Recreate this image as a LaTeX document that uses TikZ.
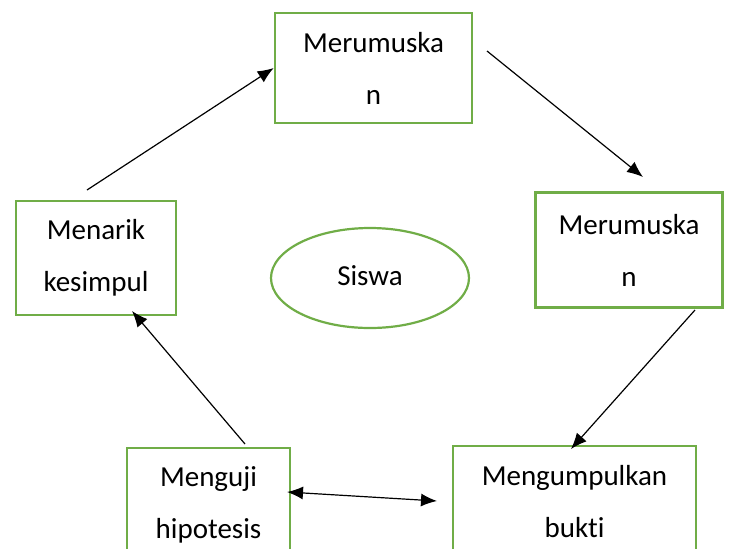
\documentclass[tikz,border=0pt]{standalone}
\usepackage{fontspec}
\setmainfont{Carlito}[Ligatures=NoCommon]
\usepackage{tikz}
\usetikzlibrary{arrows.meta,shapes.geometric}
\definecolor{boxgreen}{HTML}{70AD47}
\tikzstyle{stagebox}=[rectangle, draw=boxgreen, line width=1.3pt, align=center, inner sep=0pt,
    font=\fontsize{14.5pt}{26pt}\selectfont]
\tikzstyle{centrebox}=[ellipse, draw=boxgreen, line width=1.1pt, inner sep=0pt,
    font=\fontsize{14.5pt}{26pt}\selectfont]

\begin{document}
\begin{tikzpicture}[x=0.5pt, y=-0.5pt,
    every edge/.style={draw, line width=0.6pt, -{Latex[length=8pt,width=6.5pt]}}
]
\useasboundingbox (0,0) rectangle (729,548);
\clip (0,0) rectangle (729,548);
\node[stagebox, minimum width=98.5pt, minimum height=55pt] (rumus1) at (373.5,68) {Merumuska\\n};
\node[stagebox, minimum width=93.5pt, minimum height=57.5pt] (rumus2) at (629,250) {Merumuska\\n};
\node[stagebox, minimum width=80pt, minimum height=57pt] (tarik) at (96,258) {Menarik\\kesimpul};
\node[centrebox, minimum width=99pt, minimum height=50pt] (siswa) at (370,278) {\raisebox{2pt}{Siswa}};
\node[stagebox, minimum width=81.5pt, minimum height=57pt] (uji) at (208.5,505) {Menguji\\hipotesis};
\node[stagebox, minimum width=121.5pt, minimum height=56pt] (kumpul) at (574.5,502) {Mengumpulkan\\bukti};
% free ends of the arrows
\coordinate (tarik out) at (87,190);
\coordinate (rumus1 out) at (487,51);
\coordinate (rumus2 in) at (643,177);
\coordinate (rumus2 out) at (695,310);
\coordinate (kumpul in) at (571,449);
\coordinate (uji side) at (287,492);
\coordinate (kumpul side) at (437,501);
\coordinate (uji out) at (245,444);
\coordinate (tarik in) at (132,311);
\path
(tarik out) edge (rumus1.west)
(rumus1 out) edge (rumus2 in)
(rumus2 out) edge (kumpul in)
(uji side) edge[{Latex[length=8pt,width=6.5pt]}-{Latex[length=8pt,width=6.5pt]}] (kumpul side)
(uji out) edge (tarik in)
;
\end{tikzpicture}
\end{document}
